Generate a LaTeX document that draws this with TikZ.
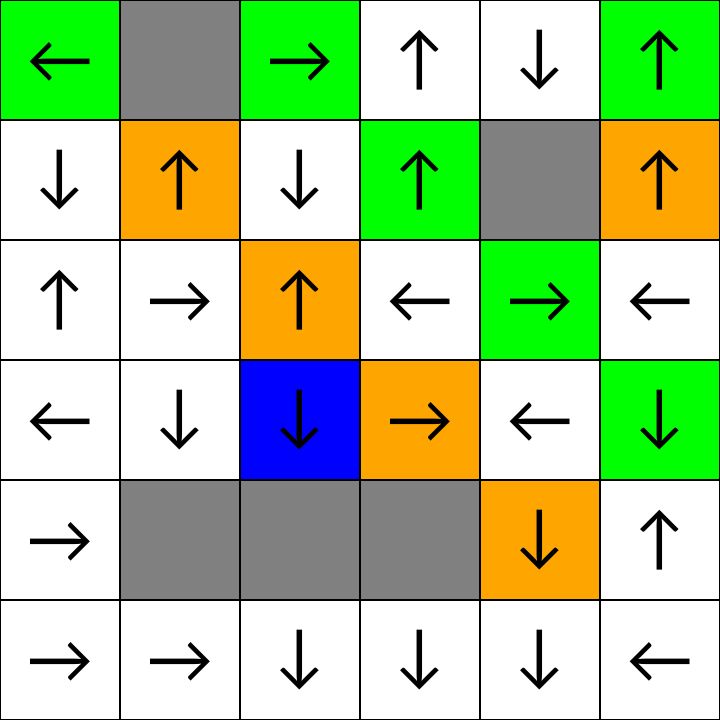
\documentclass[tikz,border=0pt]{standalone}
\usepackage{fontspec}
\newfontfamily\arrowfont{Lato}
\definecolor{cgreen}{RGB}{0,255,0}
\definecolor{cgray}{RGB}{128,128,128}
\definecolor{corange}{RGB}{255,165,0}
\definecolor{cblue}{RGB}{0,0,255}
\begin{document}
\begin{tikzpicture}[x=2cm,y=-2cm,
  cellbox/.style={draw=black,line width=1.2pt,minimum size=2cm,inner sep=0pt,outer sep=0pt},
  arr/.style={font=\arrowfont\fontsize{32}{32}\selectfont,inner sep=0pt},
  arrh/.style={yshift=-0.05cm},
  arrv/.style={}]
\useasboundingbox (0,0) rectangle (6,6);
\def\cells{%
 {cgreen/←/h,cgray//v,cgreen/→/h,white/↑/v,white/↓/v,cgreen/↑/v},%
 {white/↓/v,corange/↑/v,white/↓/v,cgreen/↑/v,cgray//v,corange/↑/v},%
 {white/↑/v,white/→/h,corange/↑/v,white/←/h,cgreen/→/h,white/←/h},%
 {white/←/h,white/↓/v,cblue/↓/v,corange/→/h,white/←/h,cgreen/↓/v},%
 {white/→/h,cgray//v,cgray//v,cgray//v,corange/↓/v,white/↑/v},%
 {white/→/h,white/→/h,white/↓/v,white/↓/v,white/↓/v,white/←/h}}
\foreach \row [count=\r from 0] in \cells {
  \foreach \c/\a/\s [count=\k from 0] in \row {
    \node[cellbox,fill=\c] (c\r\k) at (\k+0.5,\r+0.5) {};
    \node[arr,arr\s] (a\r\k) at (c\r\k.center) {\a};
  }
}
\end{tikzpicture}
\end{document}
